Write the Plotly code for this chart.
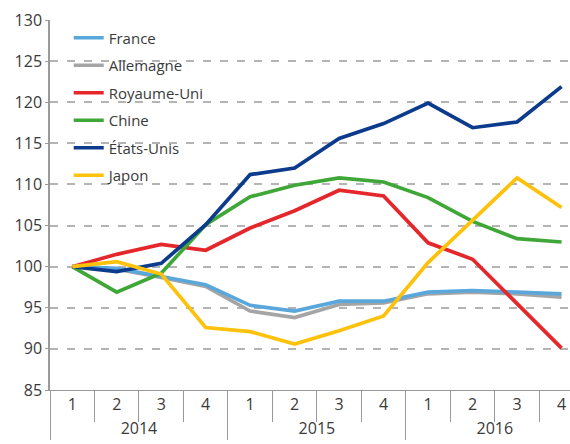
import plotly.graph_objects as go

years = ["2014"] * 4 + ["2015"] * 4 + ["2016"] * 4
quarters = ["1", "2", "3", "4"] * 3

france = [100, 99.8, 98.8, 97.8, 95.3, 94.6, 95.8, 95.8, 96.9, 97.1, 96.9, 96.7]
allemagne = [100, 99.7, 98.7, 97.6, 94.6, 93.8, 95.4, 95.6, 96.7, 96.9, 96.7, 96.3]
royaume_uni = [100, 101.5, 102.7, 102.0, 104.7, 106.8, 109.3, 108.6, 102.9, 100.9, 95.5, 90.1]
chine = [100, 96.9, 99.2, 105.1, 108.5, 109.9, 110.8, 110.3, 108.4, 105.5, 103.4, 103.0]
etats_unis = [100, 99.4, 100.4, 105.1, 111.2, 112.0, 115.6, 117.4, 119.9, 116.9, 117.6, 121.9]
japon = [100, 100.6, 99.1, 92.6, 92.1, 90.6, 92.2, 94.0, 100.5, 105.7, 110.8, 107.2]

y_ticks = list(range(85, 131, 5))

series = [
    ("Allemagne", allemagne, "#a5a5a5", 2),
    ("France", france, "#5aa7dc", 1),
    ("Royaume-Uni", royaume_uni, "#e5262a", 3),
    ("Chine", chine, "#3ea737", 4),
    ("États-Unis", etats_unis, "#0c3a8d", 5),
    ("Japon", japon, "#fec20d", 6),
]

fig = go.Figure()
for name, vals, color, rank in series:
    fig.add_trace(go.Scatter(
        x=[years, quarters], y=vals, name=name, mode="lines",
        line=dict(color=color, width=3.7), legendrank=rank,
        legendgroup=name,
    ))

font = dict(family="Open Sans, Noto Sans, sans-serif", size=16, color="#3a3a3a")

fig.update_layout(
    width=570, height=444,
    margin=dict(l=50, r=0, t=20, b=54),
    paper_bgcolor="white", plot_bgcolor="white",
    font=font,
    showlegend=True,
    legend=dict(
        x=0.036, y=0.996, xanchor="left", yanchor="top",
        bgcolor="rgba(0,0,0,0)", font=dict(size=15, color="#3a3a3a"),
        tracegroupgap=5, itemwidth=30,
    ),
    xaxis=dict(
        type="multicategory",
        range=[-0.5, 11.19],
        automargin=False,
        showgrid=False,
        showline=True, linecolor="#9a9a9a", linewidth=1,
        ticks="outside", ticklen=31, tickcolor="#9a9a9a",
        showdividers=True, dividercolor="#9a9a9a", dividerwidth=1,
        tickfont=dict(size=16, color="#3a3a3a"),
    ),
    yaxis=dict(
        range=[85, 130],
        automargin=False,
        tickvals=y_ticks,
        showgrid=True, gridcolor="#b4b4b4", gridwidth=1.5, griddash="8px,9px",
        showline=True, linecolor="#9a9a9a", linewidth=1.5,
        ticks="outside", ticklen=3, tickcolor="#9a9a9a",
        zeroline=False,
        tickfont=dict(size=16, color="#3a3a3a"),
    ),
)

fig.write_html(
    "out.html",
    config={"displayModeBar": False},
    post_script="document.body.style.margin='0';document.body.style.overflow='hidden';",
)
